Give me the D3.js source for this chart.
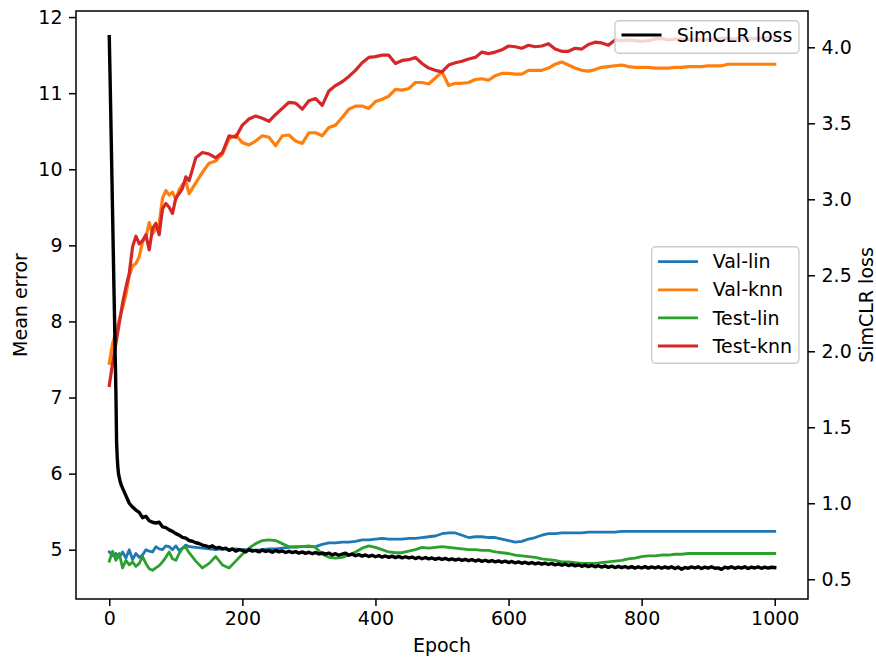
<!DOCTYPE html>
<html>
<head>
<meta charset="utf-8">
<script src="https://cdn.jsdelivr.net/npm/d3@7"></script>
<style>
  html, body { margin: 0; padding: 0; background: #fff; }
  svg text { font-family: "DejaVu Sans", sans-serif; }
</style>
</head>
<body>
<svg id="chart" width="876" height="659"></svg>
<script>
// ---------------- data ----------------
const knnEpochs = [0,5,10,15,20,25,30,35,40,45,50,55,60,65,70,75,80,85,90,95,100,105,110,115,
  120,130,140,150,160,170,180,190,200,210,220,230,240,250,260,270,280,290,300,310,320,330,340,350,
  360,370,380,390,400,410,420,430,440,450,460,470,480,490,500,510,520,530,540,550,560,570,580,590,
  600,610,620,630,640,650,660,670,680,690,700,710,720,730,740,750,760,770,780,790,800,810,820,830,
  840,850,860,870,880,890,900,910,920,930,940,950,960,970,980,990,1000];

const valLin = [4.97,4.92,4.95,4.90,4.97,4.89,5.00,4.87,4.95,4.90,4.93,5.00,4.98,4.97,5.04,5.01,5.00,5.05,5.04,5.00,5.05,4.99,5.02,5.06,
  5.04,5.03,5.02,5.01,5.00,5.01,5.00,5.01,5.00,5.00,4.99,5.00,5.01,5.01,5.02,5.03,5.04,5.04,5.04,5.04,5.07,5.09,5.09,5.10,
  5.10,5.11,5.13,5.13,5.14,5.15,5.14,5.14,5.14,5.15,5.15,5.16,5.17,5.18,5.21,5.22,5.22,5.19,5.16,5.17,5.17,5.16,5.16,5.14,
  5.12,5.10,5.11,5.14,5.16,5.19,5.21,5.21,5.22,5.22,5.22,5.22,5.23,5.23,5.23,5.23,5.23,5.24,5.24,5.24,5.24,5.24,5.24,5.24,
  5.24,5.24,5.24,5.24,5.24,5.24,5.24,5.24,5.24,5.24,5.24,5.24,5.24,5.24,5.24,5.24,5.24];

const valKnn = [7.45,7.71,7.85,8.02,8.18,8.35,8.60,8.73,8.76,8.85,9.05,9.10,9.30,9.15,9.22,9.28,9.62,9.72,9.66,9.70,9.60,9.73,9.80,9.84,
  9.68,9.82,9.96,10.08,10.11,10.20,10.40,10.45,10.35,10.32,10.37,10.44,10.42,10.31,10.44,10.45,10.37,10.34,10.48,10.48,10.44,10.55,10.58,10.68,
  10.79,10.83,10.83,10.80,10.89,10.92,10.96,11.05,11.04,11.06,11.14,11.14,11.12,11.20,11.28,11.10,11.13,11.13,11.14,11.18,11.19,11.17,11.23,11.26,
  11.26,11.25,11.25,11.30,11.30,11.30,11.33,11.38,11.41,11.37,11.33,11.30,11.29,11.31,11.34,11.35,11.36,11.37,11.35,11.34,11.34,11.34,11.33,11.33,
  11.33,11.34,11.34,11.35,11.35,11.35,11.36,11.36,11.36,11.38,11.38,11.38,11.38,11.38,11.38,11.38,11.38];

const testLin = [4.85,4.98,4.86,4.95,4.76,4.86,4.80,4.84,4.78,4.82,4.91,4.82,4.75,4.73,4.76,4.79,4.84,4.90,4.97,4.88,4.86,4.95,5.02,5.03,
  4.96,4.85,4.76,4.82,4.91,4.80,4.76,4.85,4.94,5.02,5.08,5.12,5.13,5.12,5.08,5.04,5.03,5.04,5.05,5.03,4.94,4.90,4.89,4.90,
  4.93,4.97,5.02,5.05,5.03,5.00,4.97,4.96,4.96,4.98,5.00,5.03,5.02,5.03,5.04,5.03,5.02,5.01,5.00,5.00,4.99,4.99,4.97,4.96,
  4.95,4.93,4.92,4.91,4.90,4.88,4.87,4.86,4.84,4.84,4.83,4.82,4.82,4.82,4.83,4.84,4.85,4.86,4.88,4.89,4.91,4.92,4.92,4.93,
  4.93,4.94,4.94,4.95,4.95,4.95,4.95,4.95,4.95,4.95,4.95,4.95,4.95,4.95,4.95,4.95,4.95];

const testKnn = [7.16,7.45,7.71,7.98,8.24,8.45,8.63,8.98,9.12,9.02,9.06,9.14,8.94,9.22,9.29,9.14,9.48,9.55,9.50,9.42,9.62,9.68,9.75,9.90,
  9.85,10.15,10.22,10.20,10.15,10.22,10.44,10.42,10.58,10.66,10.70,10.67,10.63,10.72,10.80,10.88,10.87,10.79,10.90,10.93,10.84,11.03,11.10,11.15,
  11.22,11.30,11.40,11.47,11.48,11.50,11.50,11.39,11.43,11.44,11.47,11.39,11.33,11.30,11.28,11.37,11.40,11.42,11.45,11.47,11.54,11.52,11.54,11.57,
  11.62,11.61,11.59,11.63,11.61,11.62,11.65,11.58,11.55,11.55,11.59,11.58,11.64,11.67,11.66,11.63,11.70,11.69,11.70,11.69,11.68,11.69,11.71,11.72,
  11.70,11.71,11.71,11.70,11.71,11.70,11.70,11.71,11.72,11.72,11.71,11.72,11.71,11.72,11.72,11.73,11.72];

const lossEpochs = [0,1,2,3,4,5,6,7,8,9,10,11,12,13,14,16,18,20,22,25,28,30,
  35,40,45,50,55,60,65,70,75,80,85,90,95,100,105,110,115,120,125,130,135,140,145,150,155,160,165,170,175,180,185,190,195,
  200,205,210,215,220,225,230,235,240,245,250,255,260,265,270,275,280,285,290,295,300,305,310,315,320,325,330,335,340,345,
  350,355,360,365,370,375,380,385,390,395,400,405,410,415,420,425,430,435,440,445,450,455,460,465,470,475,480,485,490,495,
  500,505,510,515,520,525,530,535,540,545,550,555,560,565,570,575,580,585,590,595,600,605,610,615,620,625,630,635,640,645,
  650,655,660,665,670,675,680,685,690,695,700,705,710,715,720,725,730,735,740,745,750,755,760,765,770,775,780,785,790,795,
  800,805,810,815,820,825,830,835,840,845,850,855,860,865,870,875,880,885,890,895,900,905,910,915,920,925,930,935,940,945,
  950,955,960,965,970,975,980,985,990,995,1000];

const simclrLoss = [4.07,3.85,3.62,3.38,3.14,2.90,2.66,2.42,2.20,1.95,1.72,1.40,1.30,1.23,1.19,1.15,1.12,1.10,1.08,1.05,1.02,1.00,
  0.975,0.955,0.94,0.905,0.915,0.885,0.875,0.87,0.875,0.845,0.84,0.825,0.815,0.80,0.79,0.775,0.77,0.755,0.75,0.74,0.735,0.725,0.72,0.71,0.72,0.705,0.71,0.70,0.705,0.69,0.70,0.685,0.695,
  0.69,0.68,0.695,0.685,0.69,0.68,0.692,0.683,0.688,0.678,0.69,0.68,0.686,0.676,0.684,0.675,0.682,0.672,0.68,0.67,0.678,0.668,0.676,0.666,0.673,0.665,0.672,0.66,0.668,0.658,
  0.666,0.672,0.658,0.665,0.655,0.662,0.652,0.66,0.65,0.658,0.648,0.655,0.646,0.653,0.644,0.652,0.642,0.65,0.641,0.648,0.64,0.646,0.636,0.645,0.635,0.643,0.634,0.64,0.631,0.639,
  0.63,0.637,0.628,0.634,0.626,0.633,0.624,0.631,0.622,0.63,0.62,0.627,0.618,0.625,0.616,0.623,0.614,0.621,0.612,0.619,0.61,0.617,0.608,0.614,0.605,0.612,0.603,0.61,0.601,0.608,
  0.599,0.606,0.597,0.604,0.595,0.601,0.592,0.60,0.59,0.598,0.588,0.595,0.585,0.593,0.583,0.591,0.582,0.589,0.58,0.588,0.578,0.586,0.577,0.585,0.576,0.584,0.575,0.583,0.573,0.582,
  0.574,0.583,0.573,0.581,0.574,0.582,0.572,0.581,0.573,0.582,0.571,0.58,0.566,0.578,0.572,0.581,0.574,0.582,0.571,0.58,0.573,0.582,0.572,0.575,0.565,0.58,0.573,0.582,0.572,0.58,
  0.573,0.582,0.571,0.58,0.574,0.581,0.572,0.58,0.573,0.579,0.577];

const xTicks = [0,200,400,600,800,1000];
const leftTicks = [5,6,7,8,9,10,11,12];
const rightTicks = [0.5,1.0,1.5,2.0,2.5,3.0,3.5,4.0];

const seriesLeft = [
  {name: "Val-lin", values: valLin, color: "#1f77b4", w: 2.8},
  {name: "Val-knn", values: valKnn, color: "#ff7f0e", w: 3.2},
  {name: "Test-lin", values: testLin, color: "#2ca02c", w: 2.8},
  {name: "Test-knn", values: testKnn, color: "#d62728", w: 3.2}
];

// ---------------- layout ----------------
const svg = d3.select("#chart");
const L = 76, R = 808, T = 11, B = 599;
const FS = 19;
const lw = 2.8;

const x = d3.scaleLinear().domain([-50, 1050]).range([L, R]);
const yL = d3.scaleLinear().domain([4.352, 12.08]).range([B, T]);
const yR = d3.scaleLinear().domain([0.37, 4.239]).range([B, T]);

// left lines
const lineL = d3.line().x((d, i) => x(knnEpochs[i])).y(d => yL(d));
const gL = svg.append("g");
seriesLeft.forEach(s => {
  gL.append("path")
    .attr("d", lineL(s.values))
    .attr("fill", "none")
    .attr("stroke", s.color)
    .attr("stroke-width", s.w)
    .attr("stroke-linejoin", "round")
    .attr("stroke-linecap", "square");
});

// left legend
const lg2 = svg.append("g");
lg2.append("rect").attr("x", 651.7).attr("y", 246.7).attr("width", 147.3).attr("height", 116.6)
  .attr("rx", 4).attr("ry", 4)
  .attr("fill", "rgba(255,255,255,0.8)").attr("stroke", "#cccccc").attr("stroke-width", 1.4);
seriesLeft.forEach((s, i) => {
  const yy = 261.7 + i * 28.1;
  lg2.append("line").attr("x1", 658).attr("x2", 698).attr("y1", yy).attr("y2", yy)
    .attr("stroke", s.color).attr("stroke-width", lw);
  lg2.append("text").attr("x", 712.7).attr("y", yy).attr("dy", "0.35em")
    .attr("font-size", FS).attr("fill", "#000").text(s.name);
});

// loss line (twin axis)
const lineR = d3.line().x((d, i) => x(lossEpochs[i])).y(d => yR(d));
svg.append("path")
  .attr("d", lineR(simclrLoss))
  .attr("fill", "none")
  .attr("stroke", "#000")
  .attr("stroke-width", 3.4)
  .attr("stroke-linejoin", "round")
  .attr("stroke-linecap", "square");

// right legend
const lg1 = svg.append("g");
lg1.append("rect").attr("x", 615).attr("y", 20.7).attr("width", 184).attr("height", 32.6)
  .attr("rx", 4).attr("ry", 4)
  .attr("fill", "rgba(255,255,255,0.8)").attr("stroke", "#cccccc").attr("stroke-width", 1.4);
lg1.append("line").attr("x1", 621.5).attr("x2", 661.5).attr("y1", 35).attr("y2", 35)
  .attr("stroke", "#000").attr("stroke-width", lw);
lg1.append("text").attr("x", 676.7).attr("y", 35).attr("dy", "0.35em")
  .attr("font-size", FS).attr("fill", "#000").text("SimCLR loss");

// axes
function styleAxis(g) {
  g.select(".domain").remove();
  g.selectAll(".tick line").attr("stroke", "#000").attr("stroke-width", 1.5);
  g.selectAll(".tick text").attr("font-size", FS).attr("fill", "#000")
    .attr("font-family", "DejaVu Sans, sans-serif");
}
svg.append("g").attr("transform", `translate(0,${B})`)
  .call(d3.axisBottom(x).tickValues(xTicks).tickSize(7).tickPadding(6).tickFormat(d3.format("d")))
  .call(styleAxis);
svg.append("g").attr("transform", `translate(${L},0)`)
  .call(d3.axisLeft(yL).tickValues(leftTicks).tickSize(7).tickPadding(6.5).tickFormat(d3.format("d")))
  .call(styleAxis);
svg.append("g").attr("transform", `translate(${R},0)`)
  .call(d3.axisRight(yR).tickValues(rightTicks).tickSize(7).tickPadding(6.5).tickFormat(d3.format(".1f")))
  .call(styleAxis);

// frame
svg.append("rect").attr("x", L).attr("y", T).attr("width", R - L).attr("height", B - T)
  .attr("fill", "none").attr("stroke", "#000").attr("stroke-width", 1.5);

// axis labels
svg.append("text").attr("x", (L + R) / 2).attr("y", 651.5).attr("text-anchor", "middle")
  .attr("font-size", FS).attr("fill", "#000").text("Epoch");
svg.append("text").attr("transform", `translate(27,${(T + B) / 2}) rotate(-90)`)
  .attr("text-anchor", "middle").attr("font-size", FS).attr("fill", "#000").text("Mean error");
svg.append("text").attr("transform", `translate(872.5,${(T + B) / 2}) rotate(-90)`)
  .attr("text-anchor", "middle").attr("font-size", FS).attr("fill", "#000").text("SimCLR loss");
</script>
</body>
</html>
